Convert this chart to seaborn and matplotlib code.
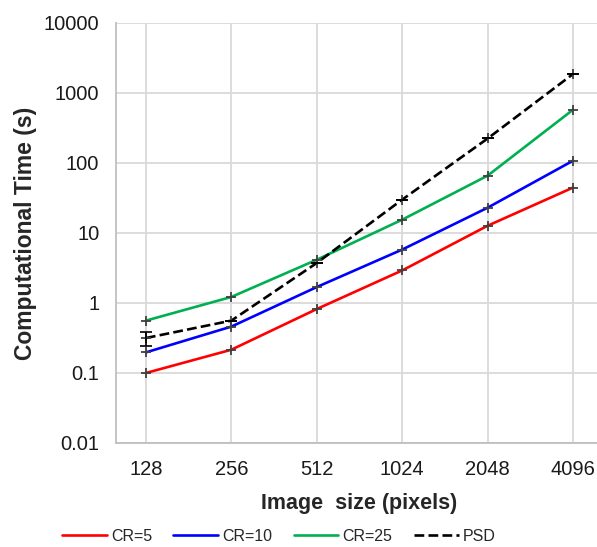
import numpy as np
import pandas as pd
import matplotlib
matplotlib.use("Agg")
import matplotlib.pyplot as plt
import seaborn as sns

# Image sizes and computational times (s)
sizes = ['128', '256', '512', '1024', '2048', '4096']
cr5 = [0.10, 0.215, 0.82, 2.92, 12.7, 44.6]
cr10 = [0.197, 0.46, 1.69, 5.8, 23.0, 108]
cr25 = [0.56, 1.22, 4.15, 15.5, 66, 578]
psd = [0.316, 0.56, 3.73, 30, 224, 1870]
psd_lo = [0.24, 0.56, 3.73, 30, 224, 1870]
psd_hi = [0.38, 0.56, 3.73, 30, 224, 1870]

sns.set_style('white')
plt.rcParams['font.family'] = ['Liberation Sans', 'DejaVu Sans']

fig = plt.figure(figsize=(5.97, 5.47), dpi=100)
ax = fig.add_axes([116 / 597, 1 - 443 / 547, 487 / 597, 420 / 547])

x = np.arange(len(sizes))
series = [('CR=5', cr5, '#ff0000', '-'),
          ('CR=10', cr10, '#0000ff', '-'),
          ('CR=25', cr25, '#00b050', '-'),
          ('PSD', psd, '#000000', '--')]

for name, vals, col, ls in series:
    df = pd.DataFrame({'x': x, 'y': vals})
    sns.lineplot(data=df, x='x', y='y', ax=ax, color=col, linestyle=ls,
                 linewidth=1.9, label=name, zorder=3)
    ax.plot(x, vals, linestyle='none', marker='+', markersize=7,
            markeredgewidth=1.3, color='#404040', zorder=4)

# error bar on PSD
err = [np.array(psd) - np.array(psd_lo), np.array(psd_hi) - np.array(psd)]
ax.errorbar(x, psd, yerr=err, fmt='none', ecolor='black', elinewidth=1.2,
            capsize=4, capthick=1.2, zorder=5)

ax.set_yscale('log')
ax.set_ylim(0.01, 10000)
ax.set_xlim(-0.35, 5.35)
ax.set_xticks(x)
ax.set_xticklabels(sizes)
ax.set_yticks([0.01, 0.1, 1, 10, 100, 1000, 10000])
ax.set_yticklabels(['0.01', '0.1', '1', '10', '100', '1000', '10000'])
ax.minorticks_off()
ax.tick_params(axis='both', length=0, labelsize=14.5, pad=12, labelcolor='#1a1a1a')
ax.grid(True, color='#d9d9d9', linewidth=1.3)
ax.set_axisbelow(True)

for s in ['top', 'right']:
    ax.spines[s].set_visible(False)
for s in ['left', 'bottom']:
    ax.spines[s].set_color('#bfbfbf')
    ax.spines[s].set_linewidth(1.3)

ax.set_xlabel('Image  size (pixels)', fontsize=15.5, fontweight='bold', labelpad=10)
ax.set_ylabel('Computational Time (s)', fontsize=16.5, fontweight='bold', labelpad=5)

handles, labels = ax.get_legend_handles_labels()
ax.legend_.remove()
fig.legend(handles, labels, loc='lower center', bbox_to_anchor=(0.467, -0.02),
           ncol=4, frameon=False, fontsize=11.5, handlelength=2.8,
           columnspacing=1.35, handletextpad=0.25)

plt.savefig('out.png', dpi=100)
